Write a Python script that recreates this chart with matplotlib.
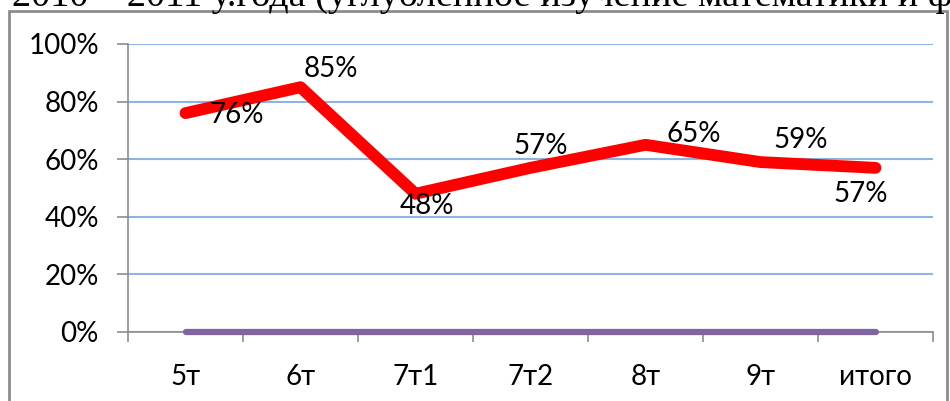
import numpy as np
import matplotlib.pyplot as plt
from matplotlib.patches import Rectangle
from matplotlib.ticker import PercentFormatter

categories = ['5т', '6т', '7т1', '7т2', '8т', '9т', 'итого']
quality = [0.76, 0.85, 0.48, 0.57, 0.65, 0.59, 0.57]
second = [0, 0, 0, 0, 0, 0, 0]
labels = ['76%', '85%', '48%', '57%', '65%', '59%', '57%']
# label offsets from the point, in pixels (dx right, dy up)
label_offsets = [(51, -2), (30, 18), (11, -12), (10, 22), (48, 11), (40, 22), (-15, -26)]

plt.rcParams['font.family'] = ['Lato', 'DejaVu Sans']

fig = plt.figure(figsize=(9.5, 4.01), dpi=100)
W, H = 950, 401

# chart frame (bottom runs off the picture)
fig.patches.append(Rectangle((9 / W, -0.1), 938 / W, 1.1 - 11 / H, transform=fig.transFigure,
                             fill=False, edgecolor='#8c8c8c', linewidth=2))

# heading of the document above the chart, cut off by the picture's edge
fig.text(12 / W, 1 - 6 / H, '2010 – 2011 у.года (углубленное изучение математики и ф',
         family='Liberation Serif', fontsize=27.5, va='baseline', ha='left')

ax = fig.add_axes([128 / W, 1 - 332 / H, (933 - 128) / W, (332 - 44) / H])
x = np.arange(len(categories)) + 0.5

ax.plot(x, second, color='#8064A2', linewidth=4.5, solid_capstyle='round', zorder=4, clip_on=False)
ax.plot(x, quality, color='#FF0000', linewidth=8.5, solid_capstyle='round',
        solid_joinstyle='round', zorder=5)

for xi, yi, lab, (dx, dy) in zip(x, quality, labels, label_offsets):
    ax.annotate(lab, (xi, yi), xytext=(dx, dy), textcoords='offset pixels',
                ha='center', va='center', fontsize=20, zorder=6)

ax.set_xlim(0, len(categories))
ax.set_ylim(0, 1)
ax.set_yticks(np.arange(0, 1.01, 0.2))
ax.yaxis.set_major_formatter(PercentFormatter(1.0, decimals=0))
ax.set_xticks(np.arange(len(categories) + 1))
ax.set_xticklabels([])
ax.set_xticks(x, minor=True)
ax.set_xticklabels(categories, minor=True)

ax.grid(axis='y', color='#8EB4E3', linewidth=1.5)
ax.set_axisbelow(True)
for s in ['top', 'right']:
    ax.spines[s].set_visible(False)
for s in ['left', 'bottom']:
    ax.spines[s].set_color('#8c8c8c')
    ax.spines[s].set_linewidth(1.2)

ax.tick_params(axis='y', direction='out', length=8, width=1.2, color='#8c8c8c',
               labelsize=20, pad=13)
ax.tick_params(axis='x', which='major', direction='out', length=7.5, width=1.2, color='#8c8c8c')
ax.tick_params(axis='x', which='minor', length=0, labelsize=20, pad=23)

fig.savefig('out.png', dpi=100)
